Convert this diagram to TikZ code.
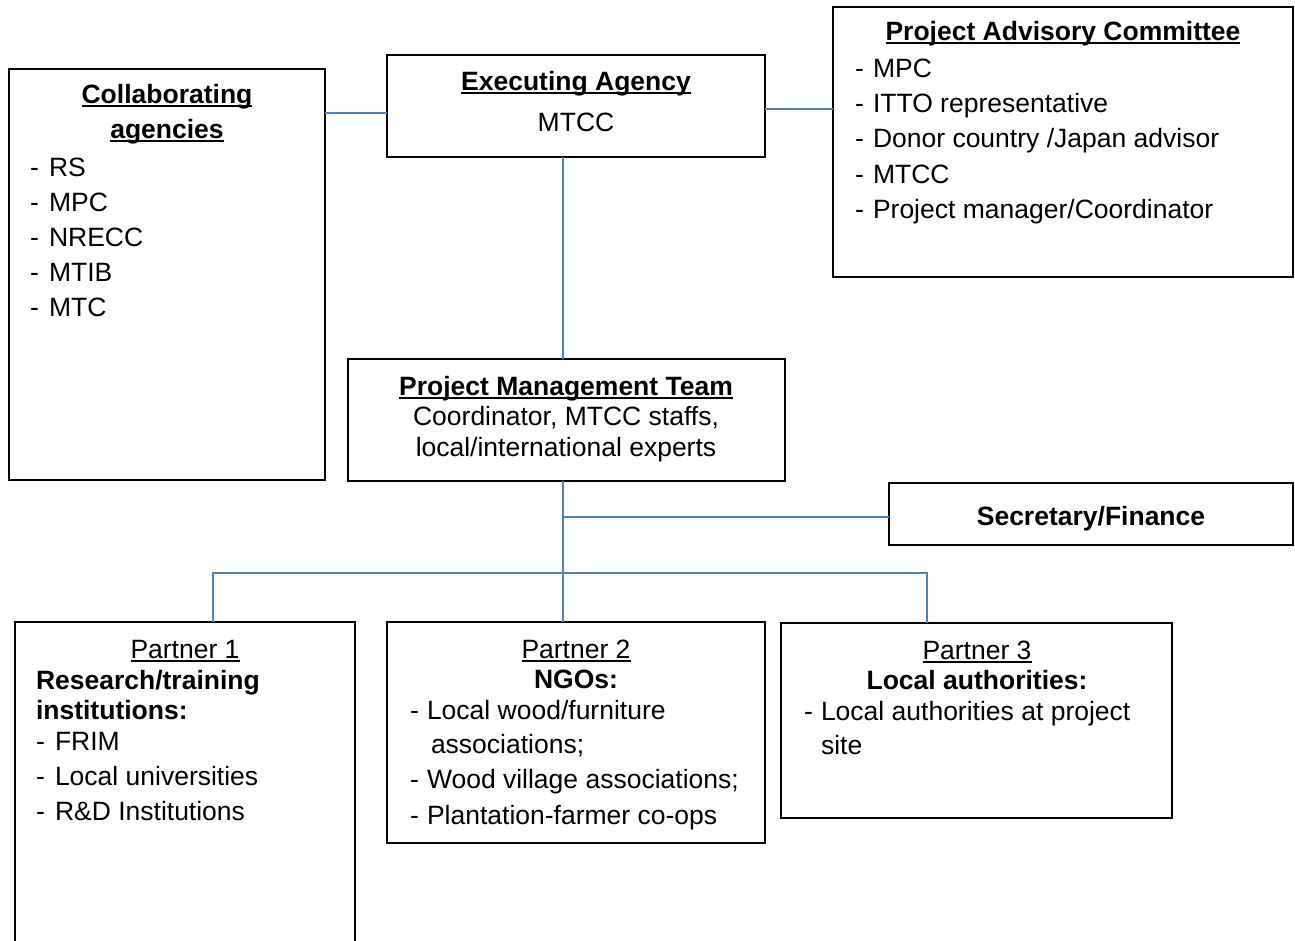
\documentclass[tikz,border=0pt]{standalone}
\usepackage{fontspec}
\setmainfont{Liberation Sans}
\definecolor{connblue}{RGB}{79,129,189}
\newcommand\myul[1]{\setbox0\hbox{#1}\rlap{\rule[-4pt]{\wd0}{1.7pt}}\box0}
\tikzset{
  box/.style={draw=black, line width=2pt, inner sep=0pt, outer sep=0pt, anchor=north west},
  conn/.style={draw=connblue, line width=2pt},
  txt/.style={inner sep=0pt, outer sep=0pt, anchor=base},
  ltxt/.style={inner sep=0pt, outer sep=0pt, anchor=base west}
}
\begin{document}
\begin{tikzpicture}[x=1pt,y=-1pt,font=\fontsize{26.5}{32}\selectfont]
\useasboundingbox (0,0) rectangle (1295,940);
\clip (0,0) rectangle (1295,940);
\fill[white] (0,0) rectangle (1295,940);

% boxes
\node[box, minimum width=316pt, minimum height=411pt] (ca) at (9,69) {};
\node[box, minimum width=378pt, minimum height=102pt] (ea) at (387,55) {};
\node[box, minimum width=460pt, minimum height=270pt] (adv) at (833,7) {};
\node[box, minimum width=437pt, minimum height=122pt] (pmt) at (348,359) {};
\node[box, minimum width=404pt, minimum height=62pt] (sec) at (889,483) {};
\node[box, minimum width=340pt, minimum height=340pt] (p1) at (15,622) {};
\node[box, minimum width=378pt, minimum height=221pt] (p2) at (387,622) {};
\node[box, minimum width=391pt, minimum height=195pt] (p3) at (781,623) {};

% connectors
\coordinate (trunk) at (563,517);
\coordinate (busL) at (213,573);
\coordinate (busR) at (927,573);
\draw[conn] (ca.east |- 0,113) -- (ea.west |- 0,113);
\draw[conn] (ea.east |- 0,109) -- (adv.west |- 0,109);
\draw[conn] (ea.south -| trunk) -- (pmt.north -| trunk);
\draw[conn] (pmt.south -| trunk) -- (p2.north -| trunk);
\draw[conn] (trunk) -- (sec.west |- trunk);
\draw[conn] (p1.north -| busL) -- (busL) -- (busR) -- (p3.north -| busR);

% Collaborating agencies
\node[txt] (cat1) at (167,103) {\bfseries\myul{Collaborating}};
\node[txt] (cat2) at (167,138) {\bfseries\myul{agencies}};
\node[ltxt] (cad1) at (30,176) {-}; \node[ltxt] (cai1) at (49,176) {RS};
\node[ltxt] (cad2) at (30,211) {-}; \node[ltxt] (cai2) at (49,211) {MPC};
\node[ltxt] (cad3) at (30,246) {-}; \node[ltxt] (cai3) at (49,246) {NRECC};
\node[ltxt] (cad4) at (30,281) {-}; \node[ltxt] (cai4) at (49,281) {MTIB};
\node[ltxt] (cad5) at (30,316) {-}; \node[ltxt] (cai5) at (49,316) {MTC};

% Executing agency
\node[txt] (eat) at (576,90) {\bfseries\myul{Executing Agency}};
\node[txt] (eai) at (576,131) {MTCC};

% Project Advisory Committee
\node[txt] (advt) at (1063,40) {\bfseries\myul{Project Advisory Committee}};
\node[ltxt] (advd1) at (855,77) {-}; \node[ltxt] (advi1) at (873,77) {MPC};
\node[ltxt] (advd2) at (855,112) {-}; \node[ltxt] (advi2) at (873,112) {ITTO representative};
\node[ltxt] (advd3) at (855,147) {-}; \node[ltxt] (advi3) at (873,147) {Donor country /Japan advisor};
\node[ltxt] (advd4) at (855,183) {-}; \node[ltxt] (advi4) at (873,183) {MTCC};
\node[ltxt] (advd5) at (855,218) {-}; \node[ltxt] (advi5) at (873,218) {Project manager/Coordinator};

% Project Management Team
\node[txt] (pmtt) at (566,395) {\bfseries\myul{Project Management Team}};
\node[txt] (pmt2) at (566,425) {Coordinator, MTCC staffs,};
\node[txt] (pmt3) at (566,456) {local/international experts};

% Secretary
\node[txt] (sect) at (1091,525) {\bfseries Secretary/Finance};

% Partner 1
\node[txt] (p1t) at (185,658) {\myul{Partner 1}};
\node[ltxt] (p1h1) at (36,689) {\bfseries Research/training};
\node[ltxt] (p1h2) at (36,719) {\bfseries institutions:};
\node[ltxt] (p1d1) at (36,750) {-}; \node[ltxt] (p1i1) at (55,750) {FRIM};
\node[ltxt] (p1d2) at (36,785) {-}; \node[ltxt] (p1i2) at (55,785) {Local universities};
\node[ltxt] (p1d3) at (36,820) {-}; \node[ltxt] (p1i3) at (55,820) {R\&D Institutions};

% Partner 2
\node[txt] (p2t) at (576,658) {\myul{Partner 2}};
\node[txt] (p2h) at (576,688) {\bfseries NGOs:};
\node[ltxt] (p2d1) at (410,719) {-}; \node[ltxt] (p2i1) at (427,719) {Local wood/furniture};
\node[ltxt] (p2i1b) at (431,753) {associations;};
\node[ltxt] (p2d2) at (410,788) {-}; \node[ltxt] (p2i2) at (427,788) {Wood village associations;};
\node[ltxt] (p2d3) at (410,824) {-}; \node[ltxt] (p2i3) at (427,824) {Plantation-farmer co-ops};

% Partner 3
\node[txt] (p3t) at (977,659) {\myul{Partner 3}};
\node[txt] (p3h) at (977,689) {\bfseries Local authorities:};
\node[ltxt] (p3d1) at (804,720) {-}; \node[ltxt] (p3i1) at (821,720) {Local authorities at project};
\node[ltxt] (p3i1b) at (821,754) {site};
\end{tikzpicture}
\end{document}
